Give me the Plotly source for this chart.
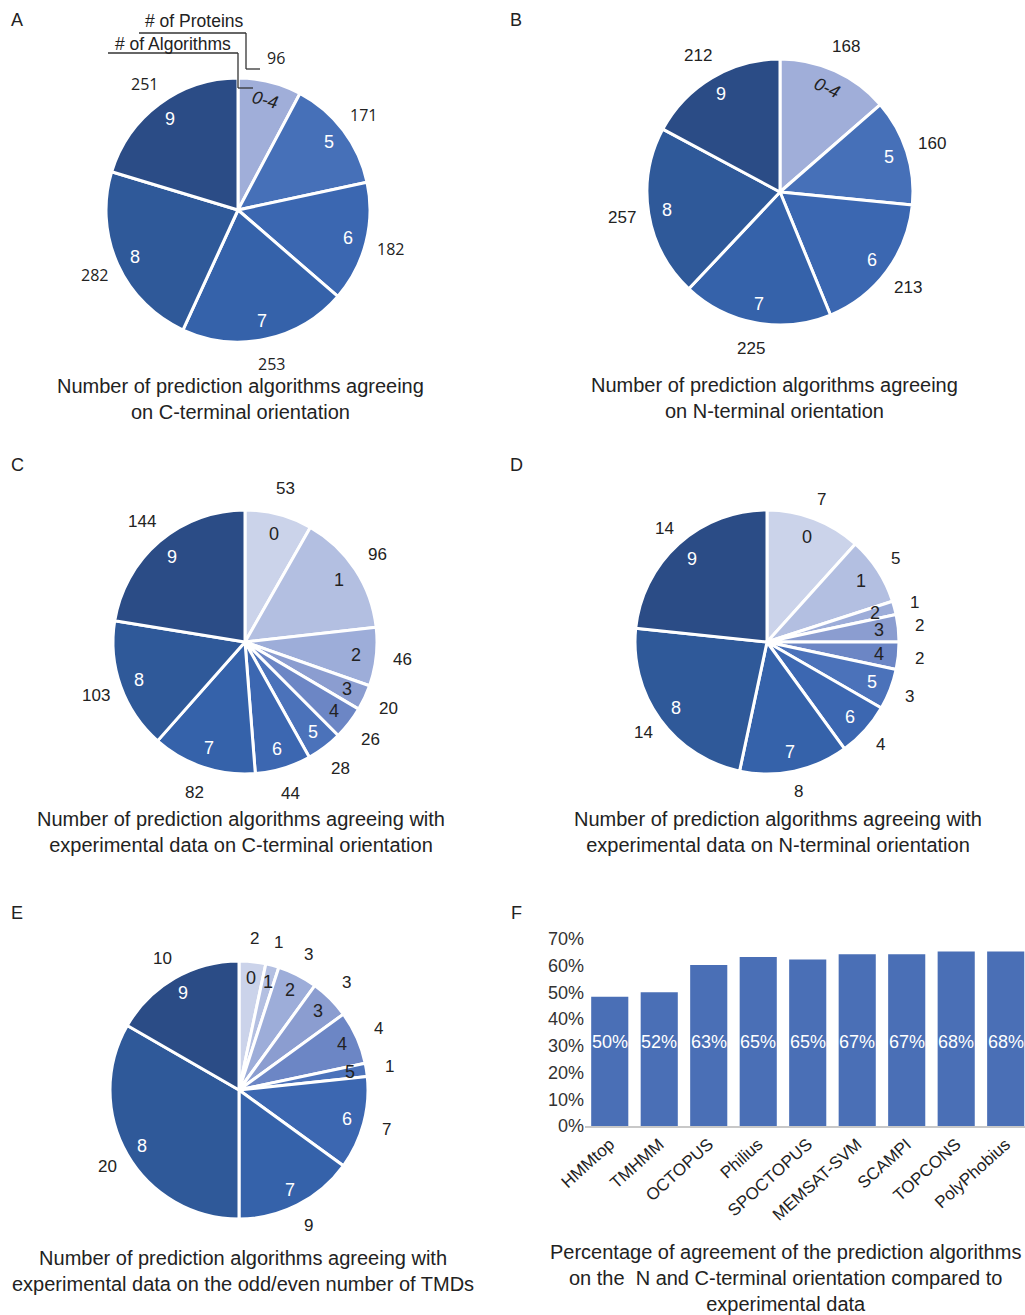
import math
import plotly.graph_objects as go

W, H = 1025, 1315

# ---------------- data ----------------
a_labels = ["0-4", "5", "6", "7", "8", "9"]
a_values = [96, 171, 182, 253, 282, 251]

b_labels = ["0-4", "5", "6", "7", "8", "9"]
b_values = [168, 160, 213, 225, 257, 212]

c_labels = ["0", "1", "2", "3", "4", "5", "6", "7", "8", "9"]
c_values = [53, 96, 46, 20, 26, 28, 44, 82, 103, 144]

d_labels = ["0", "1", "2", "3", "4", "5", "6", "7", "8", "9"]
d_values = [7, 5, 1, 2, 2, 3, 4, 8, 14, 14]

e_labels = ["0", "1", "2", "3", "4", "5", "6", "7", "8", "9"]
e_values = [2, 1, 3, 3, 4, 1, 7, 9, 20, 10]

f_algorithms = ["HMMtop", "TMHMM", "OCTOPUS", "Philius", "SPOCTOPUS",
                "MEMSAT-SVM", "SCAMPI", "TOPCONS", "PolyPhobius"]
f_heights = [48.4, 50.1, 60.3, 63.3, 62.3, 64.3, 64.3, 65.3, 65.3]
f_labels = ["50%", "52%", "63%", "65%", "65%", "67%", "67%", "68%", "68%"]
f_yticks = [0, 10, 20, 30, 40, 50, 60, 70]
f_yticktext = ["0%", "10%", "20%", "30%", "40%", "50%", "60%", "70%"]

# ---------------- styles ----------------
FONT = "Liberation Sans, Arial, Helvetica, sans-serif"
DARK = "#222222"
pal_ab = ["#a0aed9", "#4670b8", "#3b67b1", "#3562aa", "#2f5999", "#2b4c86"]
pal10 = ["#cbd3ea", "#b3bfe1", "#9dadd9", "#8b9dd0", "#6c86c5",
         "#4b72ba", "#3c67b1", "#3562aa", "#2f5999", "#2b4c86"]


def px(x):
    return x / W


def py(y):
    return 1 - y / H


fig = go.Figure()
annotations = []
shapes = []


def add_pie(labels, values, colors, cx, cy, r, in_colors, fin=0.85, fout=1.2,
            out_font=FONT, in_size=18, out_size=17, italic_first=False):
    fig.add_trace(go.Pie(
        labels=labels, values=values, sort=False, direction="clockwise",
        rotation=0, textinfo="none", showlegend=False, automargin=False,
        marker=dict(colors=colors, line=dict(color="white", width=3)),
        domain=dict(x=[px(cx - r), px(cx + r)], y=[py(cy + r), py(cy - r)]),
        hoverinfo="label+value",
    ))
    total = float(sum(values))
    cum = 0.0
    for i, (lab, v) in enumerate(zip(labels, values)):
        mid = (cum + v / 2.0) / total * 2 * math.pi
        cum += v
        ix = cx + fin * r * math.sin(mid)
        iy = cy - fin * r * math.cos(mid)
        ox = cx + fout * r * math.sin(mid)
        oy = cy - fout * r * math.cos(mid)
        txt = lab
        ang = 0
        if italic_first and i == 0:
            txt = "<i>%s</i>" % lab
            ang = math.degrees(mid)
        annotations.append(dict(
            x=px(ix), y=py(iy), xref="paper", yref="paper", text=txt,
            showarrow=False, textangle=ang,
            font=dict(family=FONT, size=in_size, color=in_colors[i]),
            xanchor="center", yanchor="middle"))
        annotations.append(dict(
            x=px(ox), y=py(oy), xref="paper", yref="paper", text=str(v),
            showarrow=False,
            font=dict(family=out_font, size=out_size, color=DARK),
            xanchor="center", yanchor="middle"))


W6 = "white"
add_pie(a_labels, a_values, pal_ab, 238, 210, 132,
        [DARK, W6, W6, W6, W6, W6], fin=0.86, fout=1.19,
        out_font="Open Sans, sans-serif", out_size=16, italic_first=True)
add_pie(b_labels, b_values, pal_ab, 780, 192, 133,
        [DARK, W6, W6, W6, W6, W6], fin=0.86, fout=1.2, italic_first=True)
add_pie(c_labels, c_values, pal10, 245, 642, 132,
        [DARK] * 5 + [W6] * 5, fin=0.85, fout=1.2)
add_pie(d_labels, d_values, pal10, 767, 642, 132,
        [DARK] * 5 + [W6] * 5, fin=0.85, fout=1.16)
add_pie(e_labels, e_values, pal10, 239, 1090, 129,
        [DARK] * 6 + [W6] * 4, fin=0.87, fout=1.18)

# ---------------- bar chart F ----------------
fig.add_trace(go.Bar(
    x=f_algorithms, y=f_heights, marker=dict(color="#4a6fb6", line=dict(width=0)),
    width=0.75, showlegend=False, xaxis="x", yaxis="y",
    hovertemplate="%{x}: %{y}%<extra></extra>"))

for alg, lab in zip(f_algorithms, f_labels):
    annotations.append(dict(
        x=alg, y=31.3, xref="x", yref="y", text=lab, showarrow=False,
        font=dict(family=FONT, size=18, color="white"),
        xanchor="center", yanchor="middle"))

# ---------------- panel A leader lines ----------------
line_style = dict(color="#333333", width=1.3)
for (x0, y0, x1, y1) in [(139, 33, 246, 33), (246, 33, 246, 69), (246, 69, 260, 69),
                         (108, 53, 238, 53), (238, 53, 238, 88), (238, 88, 253, 88)]:
    shapes.append(dict(type="line", xref="paper", yref="paper",
                       x0=px(x0), y0=py(y0), x1=px(x1), y1=py(y1), line=line_style))
annotations.append(dict(x=px(194), y=py(21), xref="paper", yref="paper",
                        text="# of Proteins", showarrow=False,
                        xanchor="center", yanchor="middle",
                        font=dict(family=FONT, size=17.5, color=DARK)))
annotations.append(dict(x=px(173), y=py(44), xref="paper", yref="paper",
                        text="# of Algorithms", showarrow=False,
                        xanchor="center", yanchor="middle",
                        font=dict(family=FONT, size=17.5, color=DARK)))

# ---------------- panel letters ----------------
for letter, x, y in [("A", 17, 20), ("B", 516, 20), ("C", 17, 465),
                     ("D", 516, 465), ("E", 17, 913), ("F", 516, 913)]:
    annotations.append(dict(x=px(x), y=py(y), xref="paper", yref="paper",
                            text=letter, showarrow=False,
                            font=dict(family=FONT, size=18, color=DARK),
                            xanchor="center", yanchor="middle"))

# ---------------- captions ----------------
captions = [
    ("Number of prediction algorithms agreeing<br>on C-terminal orientation", 240, 399),
    ("Number of prediction algorithms agreeing<br>on N-terminal orientation", 774, 398),
    ("Number of prediction algorithms agreeing with<br>experimental data on C-terminal orientation", 241, 832),
    ("Number of prediction algorithms agreeing with<br>experimental data on N-terminal orientation", 778, 832),
    ("Number of prediction algorithms agreeing with<br>experimental data on the odd/even number of TMDs", 243, 1271),
    ("Percentage of agreement of the prediction algorithms<br>on the  N and C-terminal orientation compared to<br>experimental data", 785, 1278),
]
for txt, x, y in captions:
    annotations.append(dict(x=px(x), y=py(y), xref="paper", yref="paper",
                            text=txt, showarrow=False, align="center",
                            font=dict(family=FONT, size=20, color=DARK),
                            xanchor="center", yanchor="middle"))

fig.update_layout(
    width=W, height=H,
    margin=dict(l=0, r=0, t=0, b=0, pad=0, autoexpand=False),
    paper_bgcolor="white", plot_bgcolor="white",
    font=dict(family=FONT, color=DARK),
    xaxis=dict(domain=[px(585), 1.0], range=[-0.5, 8.39], tickangle=-42,
               showline=True, linecolor="#c8c8c8", linewidth=1.5,
               showgrid=False, zeroline=False, ticks="", automargin=False,
               tickfont=dict(family=FONT, size=17, color=DARK), anchor="y"),
    yaxis=dict(domain=[py(1126), py(939)], range=[0, 70], tickmode="array",
               tickvals=f_yticks, ticktext=f_yticktext,
               showgrid=False, zeroline=False, showline=False, automargin=False,
               ticks="", tickfont=dict(family=FONT, size=18, color="#333333"),
               anchor="x"),
    bargap=0.25,
    annotations=annotations,
    shapes=shapes,
)

fig.write_html("out.html")
